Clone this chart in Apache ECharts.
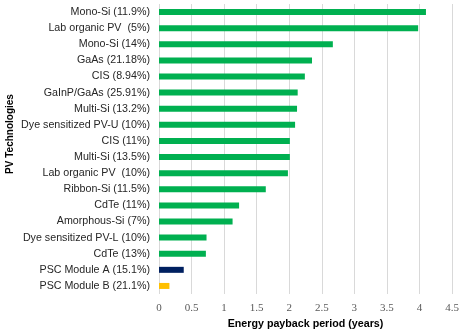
<!DOCTYPE html>
<html>
<head>
<meta charset="utf-8">
<script src="https://cdn.jsdelivr.net/npm/echarts@6/dist/echarts.min.js"></script>
<style>
  html, body { margin: 0; padding: 0; background: #fff; }
  #chart { width: 459px; height: 331px; }
</style>
</head>
<body>
<div id="chart"></div>
<script>
// categories, top to bottom
var technologies = [
  'Mono-Si (11.9%)', 'Lab organic PV  (5%)', 'Mono-Si (14%)', 'GaAs (21.18%)',
  'CIS (8.94%)', 'GaInP/GaAs (25.91%)', 'Multi-Si (13.2%)', 'Dye sensitized PV-U (10%)',
  'CIS (11%)', 'Multi-Si (13.5%)', 'Lab organic PV  (10%)', 'Ribbon-Si (11.5%)',
  'CdTe (11%)', 'Amorphous-Si (7%)', 'Dye sensitized PV-L (10%)', 'CdTe (13%)',
  'PSC Module A (15.1%)', 'PSC Module B (21.1%)'
]
var payback = [4.10, 3.98, 2.67, 2.35, 2.24, 2.13, 2.12, 2.09, 2.01, 2.01, 1.98, 1.64,
  1.23, 1.13, 0.73, 0.72, 0.38, 0.16]
var barColors = ['#00b050', '#00b050', '#00b050', '#00b050', '#00b050', '#00b050',
  '#00b050', '#00b050', '#00b050', '#00b050', '#00b050', '#00b050', '#00b050',
  '#00b050', '#00b050', '#00b050', '#002060', '#ffc000']

var chart = echarts.init(document.getElementById('chart'))
chart.setOption({
  animation: false,
  grid: { left: 159, right: 7, top: 4, bottom: 37, outerBoundsMode: 'none' },
  xAxis: {
    type: 'value',
    min: 0,
    max: 4.5,
    interval: 0.5,
    name: 'Energy payback period (years)',
    nameLocation: 'middle',
    nameGap: 22,
    nameTextStyle: { fontFamily: 'Liberation Sans', fontWeight: 'bold', fontSize: 10.7, color: '#000' },
    axisLine: { show: false },
    axisTick: { show: false },
    axisLabel: { fontFamily: 'Liberation Serif', fontSize: 11, color: '#595959', margin: 9 },
    splitLine: { lineStyle: { color: '#d9d9d9' } }
  },
  yAxis: {
    type: 'category',
    inverse: true,
    data: technologies,
    name: 'PV Technologies',
    nameLocation: 'middle',
    nameMoveOverlap: false,
    nameGap: 144,
    nameTextStyle: { fontFamily: 'Liberation Sans', fontWeight: 'bold', fontSize: 10, color: '#000', padding: [0, 0, 0, 30] },
    axisLine: { show: false },
    axisTick: { show: false },
    axisLabel: { fontFamily: 'Liberation Sans', fontSize: 10.7, color: '#262626', margin: 9 }
  },
  series: [{
    type: 'bar',
    barWidth: 6,
    data: payback.map(function (v, i) {
      return { value: v, itemStyle: { color: barColors[i] } }
    })
  }]
})
</script>
</body>
</html>
